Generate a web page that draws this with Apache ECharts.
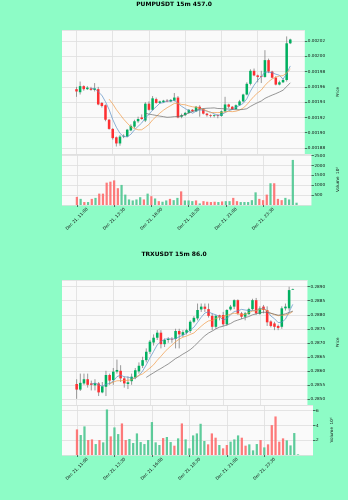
<!DOCTYPE html>
<html><head><meta charset="utf-8">
<script src="https://cdn.jsdelivr.net/npm/echarts@6/dist/echarts.min.js"></script>
<style>html,body{margin:0;padding:0;background:#8dfcc6}#c{width:348px;height:500px}</style>
</head><body><div id="c"></div>
<script>
// ---------- data ----------
const tickPos = [0, 10, 20, 30, 40, 50];
const tickLabels = ['Dec 21, 11:00', 'Dec 21, 13:30', 'Dec 21, 16:00', 'Dec 21, 18:30', 'Dec 21, 21:00', 'Dec 21, 23:30'];

const pumpTitle = 'PUMPUSDT 15m 457.0';
const pumpOpen = [0.001957,0.001953,0.001961,0.001957,0.001958,0.001956,0.001957,0.001939,0.001936,0.001917,
  0.001905,0.001894,0.001886,0.001895,0.001895,0.001903,0.001908,0.001915,0.001920,0.001916,
  0.001938,0.001930,0.001944,0.001939,0.001940,0.001942,0.001941,0.001942,0.001946,0.001921,
  0.001923,0.001926,0.001930,0.001928,0.001934,0.001931,0.001925,0.001923,0.001922,0.001923,
  0.001922,0.001928,0.001937,0.001934,0.001931,0.001936,0.001941,0.001950,0.001964,0.001981,
  0.001975,0.001974,0.001973,0.001995,0.001980,0.001972,0.001963,0.001966,0.001969,0.002017];
const pumpHigh = [0.001960,0.001967,0.001962,0.001961,0.001960,0.001965,0.001960,0.001940,0.001937,0.001918,
  0.001906,0.001895,0.001897,0.001898,0.001905,0.001911,0.001917,0.001921,0.001924,0.001940,
  0.001941,0.001948,0.001946,0.001942,0.001943,0.001944,0.001944,0.001952,0.001948,0.001925,
  0.001927,0.001931,0.001931,0.001935,0.001936,0.001932,0.001926,0.001924,0.001924,0.001924,
  0.001929,0.001947,0.001938,0.001935,0.001937,0.001943,0.001951,0.001966,0.001983,0.001984,
  0.001976,0.001981,0.002008,0.001997,0.001981,0.001974,0.001968,0.001971,0.002026,0.002023];
const pumpLow = [0.001947,0.001950,0.001955,0.001956,0.001955,0.001954,0.001936,0.001933,0.001915,0.001904,
  0.001891,0.001882,0.001883,0.001893,0.001894,0.001902,0.001906,0.001913,0.001917,0.001914,
  0.001929,0.001929,0.001938,0.001938,0.001939,0.001940,0.001940,0.001941,0.001919,0.001919,
  0.001922,0.001925,0.001927,0.001927,0.001921,0.001924,0.001921,0.001920,0.001920,0.001919,
  0.001921,0.001927,0.001932,0.001930,0.001930,0.001935,0.001940,0.001949,0.001962,0.001974,
  0.001966,0.001965,0.001972,0.001978,0.001971,0.001962,0.001962,0.001965,0.001967,0.002016];
const pumpClose = [0.001954,0.001961,0.001957,0.001959,0.001956,0.001958,0.001937,0.001935,0.001917,0.001905,
  0.001893,0.001886,0.001895,0.001896,0.001904,0.001909,0.001915,0.001918,0.001918,0.001938,
  0.001930,0.001945,0.001939,0.001941,0.001942,0.001941,0.001943,0.001946,0.001920,0.001923,
  0.001926,0.001930,0.001928,0.001934,0.001931,0.001925,0.001923,0.001922,0.001923,0.001922,
  0.001928,0.001937,0.001934,0.001931,0.001936,0.001941,0.001950,0.001964,0.001981,0.001975,
  0.001973,0.001973,0.001995,0.001980,0.001972,0.001963,0.001966,0.001969,0.002017,0.002022];
const pumpVolume = [410,310,150,150,310,360,575,575,1130,1180,
  1245,850,1015,525,280,230,280,395,280,575,
  445,330,195,165,230,310,245,360,690,230,
  230,195,230,80,195,165,150,165,150,180,
  195,195,360,195,150,150,150,245,640,310,
  245,525,1100,1100,310,245,360,280,2280,115];

const trxTitle = 'TRXUSDT 15m 86.0';
const trxOpen = [0.28553,0.28533,0.28555,0.28570,0.28555,0.28548,0.28555,0.28523,0.28543,0.28585,
  0.28567,0.28597,0.28600,0.28573,0.28553,0.28563,0.28576,0.28598,0.28618,0.28638,
  0.28668,0.28701,0.28718,0.28736,0.28695,0.28710,0.28714,0.28714,0.28742,0.28728,
  0.28736,0.28742,0.28775,0.28787,0.28819,0.28829,0.28820,0.28796,0.28757,0.28798,
  0.28799,0.28766,0.28819,0.28829,0.28852,0.28805,0.28793,0.28802,0.28820,0.28852,
  0.28803,0.28829,0.28817,0.28776,0.28769,0.28760,0.28757,0.28823,0.28823,0.28890];
const trxHigh = [0.28570,0.28590,0.28590,0.28590,0.28565,0.28570,0.28560,0.28560,0.28600,0.28590,
  0.28610,0.28640,0.28620,0.28580,0.28580,0.28590,0.28610,0.28630,0.28650,0.28680,
  0.28710,0.28730,0.28745,0.28745,0.28715,0.28720,0.28720,0.28750,0.28750,0.28745,
  0.28750,0.28780,0.28795,0.28840,0.28840,0.28840,0.28840,0.28805,0.28800,0.28800,
  0.28810,0.28820,0.28835,0.28855,0.28855,0.28810,0.28810,0.28825,0.28857,0.28860,
  0.28830,0.28835,0.28830,0.28780,0.28775,0.28765,0.28830,0.28840,0.28900,0.28893];
const trxLow = [0.28500,0.28528,0.28550,0.28540,0.28530,0.28530,0.28510,0.28520,0.28510,0.28550,
  0.28550,0.28590,0.28560,0.28540,0.28535,0.28550,0.28570,0.28590,0.28610,0.28630,
  0.28660,0.28690,0.28710,0.28680,0.28685,0.28700,0.28700,0.28680,0.28680,0.28720,
  0.28730,0.28735,0.28770,0.28780,0.28810,0.28810,0.28790,0.28745,0.28750,0.28780,
  0.28760,0.28760,0.28815,0.28820,0.28800,0.28785,0.28780,0.28800,0.28815,0.28800,
  0.28800,0.28805,0.28760,0.28755,0.28745,0.28745,0.28750,0.28815,0.28815,0.28889];
const trxClose = [0.28533,0.28557,0.28570,0.28550,0.28550,0.28556,0.28523,0.28545,0.28585,0.28565,
  0.28597,0.28603,0.28573,0.28555,0.28559,0.28579,0.28602,0.28618,0.28638,0.28668,
  0.28704,0.28718,0.28736,0.28695,0.28710,0.28714,0.28712,0.28742,0.28730,0.28738,
  0.28745,0.28775,0.28789,0.28817,0.28829,0.28821,0.28796,0.28757,0.28796,0.28793,
  0.28766,0.28817,0.28829,0.28852,0.28805,0.28793,0.28805,0.28820,0.28852,0.28805,
  0.28823,0.28817,0.28773,0.28760,0.28757,0.28753,0.28823,0.28829,0.28888,0.28892];
const trxVolume = [3.46,2.70,3.87,2.02,2.11,1.48,2.02,1.71,6.16,2.52,
  3.73,2.83,4.27,2.02,2.16,1.62,2.92,1.75,1.48,2.02,
  4.45,1.71,1.35,2.29,2.43,1.75,1.26,2.25,4.27,2.11,
  0.90,2.65,2.92,4.22,1.89,1.44,2.92,2.34,1.35,0.90,
  1.35,1.80,2.11,2.65,2.34,1.26,1.44,0.63,1.48,2.02,
  1.03,1.44,4.04,5.21,1.80,2.25,1.98,1.30,2.97,0.09];

const maPeriods = [5, 10, 20];

// ---------- style ----------
const UP = '#00b060', DOWN = '#fe3032', WICK = '#707070';
const VUP = '#4dc790', VDOWN = '#fd6b6c';
const MA_COLORS = ['#5b8fc4', '#f09a45', '#6a6a6a'];
const GRIDC = '#dedede', TXT = '#101010', FONT = 'DejaVu Sans';
const PAD = 4;
const NCAT = pumpOpen.length + 2 * PAD;
const cats = Array.from({length: NCAT}, (_, k) => 'c' + k);

const isTick = (idx) => tickPos.indexOf(idx - PAD) >= 0;

function candleData(o, h, l, c) { return o.map((v, i) => [i + PAD, v, c[i], l[i], h[i]]); }
function volData(v, o, c) { return v.map((x, i) => [i + PAD, x, c[i] >= o[i] ? 1 : 0]); }
function maData(c, n) {
  const out = [];
  for (let i = n - 1; i < c.length; i++) {
    let s = 0; for (let j = i - n + 1; j <= i; j++) s += c[j];
    out.push([i + PAD, s / n]);
  }
  return out;
}

function candleRender(params, api) {
  const x = api.value(0), o = api.value(1), c = api.value(2), l = api.value(3), h = api.value(4);
  const pO = api.coord([x, o]), pC = api.coord([x, c]), pL = api.coord([x, l]), pH = api.coord([x, h]);
  const w = api.size([1, 0])[0] * 0.7;
  const top = Math.min(pO[1], pC[1]);
  const hh = Math.max(Math.abs(pO[1] - pC[1]), 0.7);
  return {type: 'group', children: [
    {type: 'line', shape: {x1: pH[0], y1: pH[1], x2: pL[0], y2: pL[1]}, style: {stroke: WICK, lineWidth: 0.7}},
    {type: 'rect', shape: {x: pO[0] - w / 2, y: top, width: w, height: hh}, style: {fill: c >= o ? UP : DOWN}}
  ]};
}
function volRender(params, api) {
  const x = api.value(0), v = api.value(1), up = api.value(2);
  const p0 = api.coord([x, 0]), p1 = api.coord([x, v]);
  const w = api.size([1, 0])[0] * 0.6;
  return {type: 'rect', shape: {x: p0[0] - w / 2, y: p1[1], width: w, height: p0[1] - p1[1]},
    style: {fill: up ? VUP : VDOWN, opacity: 0.9}};
}

function xAxis(gi, labels) {
  return {
    type: 'category', gridIndex: gi, data: cats, boundaryGap: false,
    axisLine: {show: false},
    axisTick: {show: labels, interval: isTick, length: 2, lineStyle: {color: TXT, width: 0.6}},
    axisLabel: {show: labels, interval: isTick, rotate: 45, align: 'center', verticalAlign: 'middle', margin: 14,
      fontSize: 4.2, fontFamily: FONT, color: TXT,
      formatter: (val, idx) => { const p = tickPos.indexOf(idx - PAD); return p >= 0 ? tickLabels[p] : ''; }},
    splitLine: {show: true, interval: isTick, lineStyle: {color: GRIDC, width: 0.8}}
  };
}
function yAxis(gi, min, max, step, split, fmt, name, gap) {
  return {
    type: 'value', gridIndex: gi, position: 'right', min: min, max: max,
    splitNumber: split, minInterval: step, maxInterval: step,
    axisLine: {show: false},
    axisTick: {show: true, length: 2.5, lineStyle: {color: TXT, width: 0.6}},
    axisLabel: {fontSize: 4.2, fontFamily: FONT, color: TXT, margin: 3, showMinLabel: false, showMaxLabel: false, formatter: fmt},
    splitLine: {show: true, lineStyle: {color: GRIDC, width: 0.8}},
    name: name, nameLocation: 'middle', nameRotate: 90, nameGap: gap,
    nameTextStyle: {fontSize: 4.2, fontFamily: FONT, color: TXT}
  };
}

const gridBase = {left: 62, width: 251, show: true, backgroundColor: '#fafafa', borderWidth: 0};

const series = [];
function addChart(gPrice, gVol, o, h, l, c, v) {
  series.push({type: 'custom', xAxisIndex: gPrice, yAxisIndex: gPrice, renderItem: candleRender,
    data: candleData(o, h, l, c), encode: {x: 0, y: [1, 2, 3, 4]}, silent: true, z: 3});
  maPeriods.forEach((n, k) => series.push({type: 'line', xAxisIndex: gPrice, yAxisIndex: gPrice,
    data: maData(c, n), showSymbol: false, smooth: false, silent: true, z: 4,
    lineStyle: {color: MA_COLORS[k], width: 0.7}}));
  series.push({type: 'custom', xAxisIndex: gVol, yAxisIndex: gVol, renderItem: volRender,
    data: volData(v, o, c), encode: {x: 0, y: 1}, silent: true});
}
addChart(0, 1, pumpOpen, pumpHigh, pumpLow, pumpClose, pumpVolume);
addChart(2, 3, trxOpen, trxHigh, trxLow, trxClose, trxVolume);

const option = {
  backgroundColor: '#8dfcc6',
  animation: false,
  title: [
    {text: pumpTitle, left: 'center', top: 1, padding: 0, textStyle: {fontSize: 6, fontWeight: 'bold', fontFamily: FONT, color: '#000'}},
    {text: trxTitle, left: 'center', top: 251, padding: 0, textStyle: {fontSize: 6, fontWeight: 'bold', fontFamily: FONT, color: '#000'}}
  ],
  grid: [
    Object.assign({top: 30, height: 124}, gridBase),
    Object.assign({top: 154, height: 51}, gridBase),
    Object.assign({top: 280, height: 125}, gridBase),
    Object.assign({top: 405, height: 50}, gridBase)
  ],
  xAxis: [xAxis(0, false), xAxis(1, true), xAxis(2, false), xAxis(3, true)],
  yAxis: [
    yAxis(0, 0.0018722, 0.0020344, 0.00002, 8, v => v.toFixed(5), 'Price', 21),
    yAxis(1, 0, 2580, 500, 5, v => String(Math.round(v)), 'Volume  10⁶', 16),
    yAxis(2, 0.28478, 0.28924, 0.0005, 9, v => v.toFixed(4), 'Price', 17.5),
    yAxis(3, 0, 6.76, 2, 3, v => String(Math.round(v)), 'Volume  10⁶', 7)
  ],
  series: series
};

const chart = echarts.init(document.getElementById('c'), null, {renderer: 'canvas'});
chart.setOption(option);
</script>
</body></html>
